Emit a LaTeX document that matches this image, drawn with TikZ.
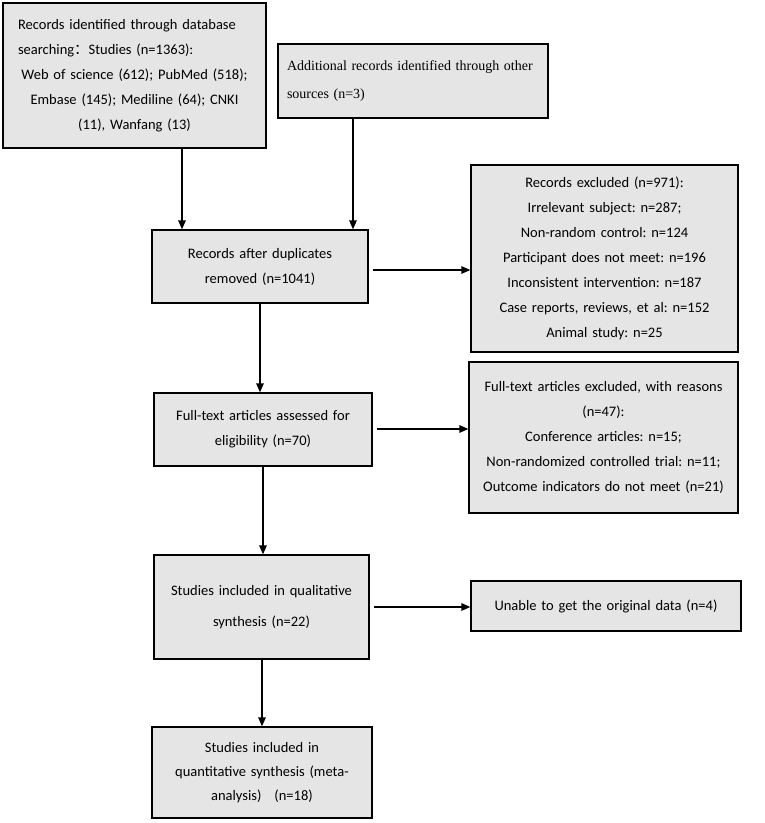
\documentclass[tikz,border=0pt]{standalone}
\usepackage{fontspec}
\setmainfont{Carlito}
\newfontfamily\timesfont{Liberation Serif}
\newfontfamily\cjkfont{Noto Sans CJK SC}
\usetikzlibrary{arrows.meta}
\definecolor{boxgray}{HTML}{E5E5E5}
\frenchspacing

\begin{document}
\begin{tikzpicture}[x=1pt,y=-1pt,>={Triangle[length=9pt,width=7.5pt]},line width=1.3pt,
    main node/.style={rectangle,draw,fill=boxgray,align=center,inner sep=0pt,
      font=\fontsize{14.5}{25}\selectfont},
    serif node/.style={main node,align=left,font=\timesfont\fontsize{14}{28}\selectfont}]
    \useasboundingbox (0,0) rectangle (765,823);
    \node[main node,minimum width=263pt,minimum height=145pt,text width=233pt] (1) at (134.5,75.5)
      {\makebox[\linewidth][s]{Records identified through database}\\
       \makebox[\linewidth][l]{searching{\cjkfont：}Studies (n=1363):}\\
       Web of science (612); PubMed (518);\\
       Embase (145); Mediline (64); CNKI\\
       (11), Wanfang (13)};
    \node[serif node,minimum width=270pt,minimum height=74pt,text width=252pt] (2) at (413,81)
      {Additional records identified through other\\ sources (n=3)};
    \node[main node,minimum width=216pt,minimum height=73pt,text width=200pt] (3) at (260,266.5)
      {Records after duplicates\\ removed (n=1041)};
    \node[main node,minimum width=267pt,minimum height=187pt,text width=255pt] (4) at (604.5,258.5)
      {Records excluded (n=971):\\ Irrelevant subject: n=287;\\ Non-random control: n=124\\
       Participant does not meet: n=196\\ Inconsistent intervention: n=187\\
       Case reports, reviews, et al: n=152\\ Animal study: n=25};
    \node[main node,minimum width=269pt,minimum height=151pt,text width=260pt] (6) at (603.5,437.5)
      {Full-text articles excluded, with reasons\\ (n=47):\\ Conference articles: n=15;\\
       Non-randomized controlled trial: n=11;\\ Outcome indicators do not meet (n=21)};
    \node[main node,minimum width=218pt,minimum height=73pt,text width=205pt] (5) at (263,429.5)
      {Full-text articles assessed for\\ eligibility (n=70)};
    \node[main node,minimum width=215pt,minimum height=104pt,text width=205pt,
      font=\fontsize{14.5}{31}\selectfont] (7) at (261.5,607)
      {Studies included in qualitative\\ synthesis (n=22)};
    \node[main node,minimum width=270pt,minimum height=50pt,text width=260pt] (8) at (606,606)
      {Unable to get the original data (n=4)};
    \node[main node,minimum width=220pt,minimum height=91pt,text width=210pt,
      font=\fontsize{14.5}{24}\selectfont] (9) at (262,772.5)
      {Studies included in\\ quantitative synthesis (meta-\\ analysis)\hspace{13pt}(n=18)};
    % connectors
    \path[->]
    ([xshift=47.5pt]1.south) edge ([xshift=47.5pt]1.south |- 3.north)
    ([xshift=-60pt]2.south) edge ([xshift=-60pt]2.south |- 3.north)
    (3.south) edge (3.south |- 5.north)
    (5.south) edge (5.south |- 7.north)
    (9.north |- 7.south) edge (9.north);
    \path[->,shorten <=4pt]
    ([yshift=-3.5pt]3.east) edge ([yshift=-3.5pt]3.east -| 4.west)
    ([yshift=0.5pt]5.east) edge ([yshift=0.5pt]5.east -| 6.west)
    (7.east) edge (7.east -| 8.west);
\end{tikzpicture}
\end{document}
